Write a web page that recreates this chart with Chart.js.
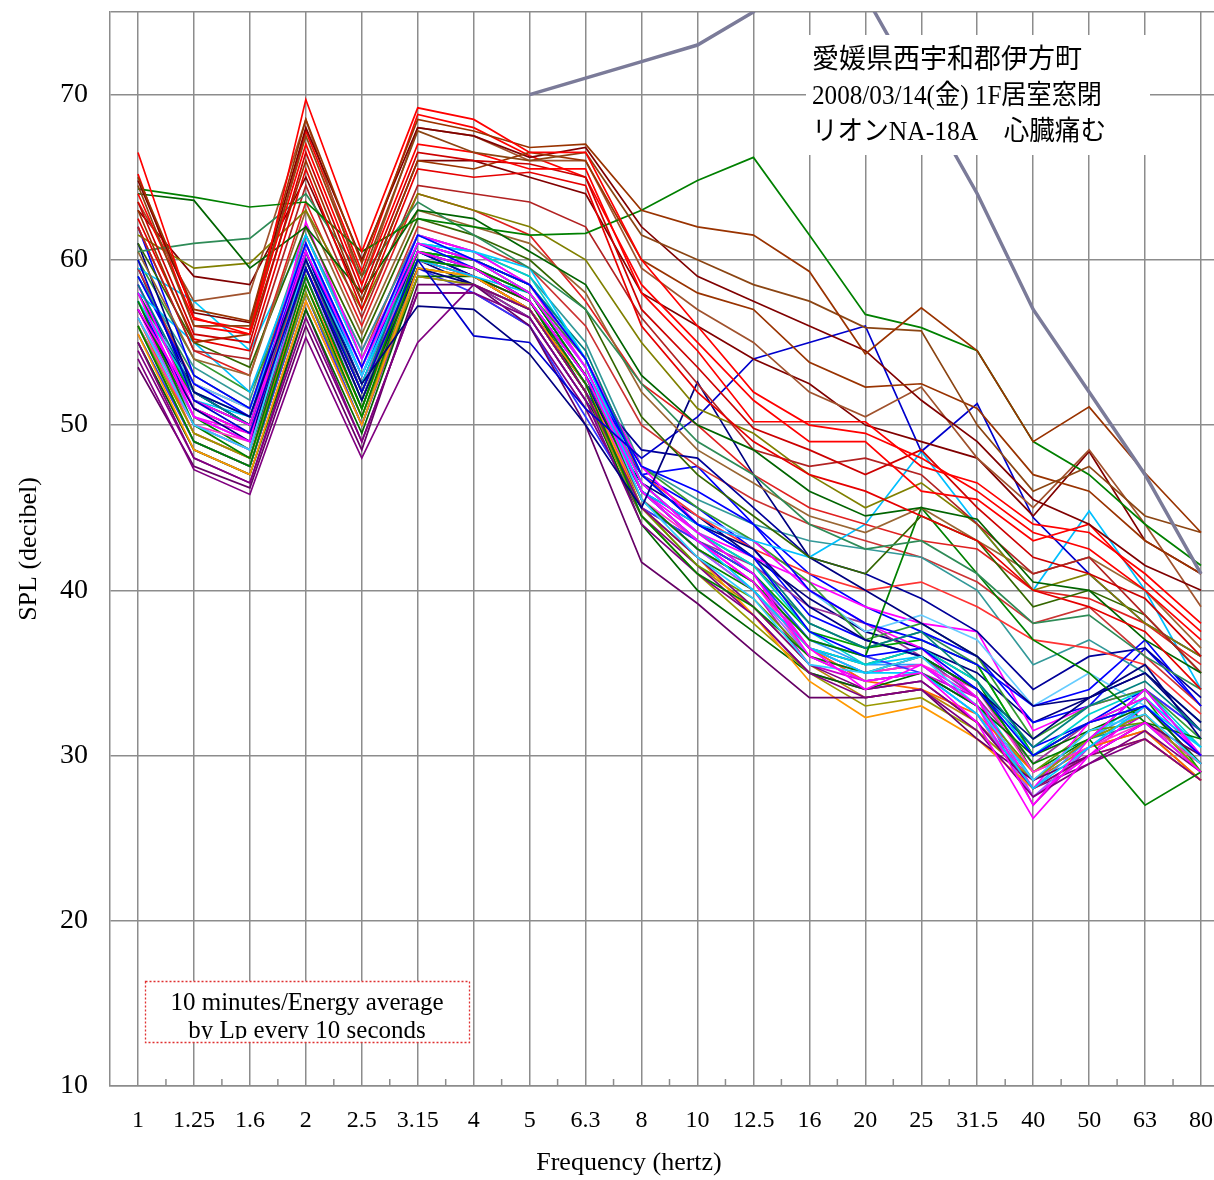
<!DOCTYPE html>
<html><head><meta charset="utf-8">
<script src="https://cdn.jsdelivr.net/npm/chart.js@4.4.1/dist/chart.umd.min.js"></script>
<style>html,body{margin:0;padding:0;background:#fff;overflow:hidden;width:1214px;height:1180px}canvas{display:block}</style>
</head><body>
<canvas id="c" width="1240" height="1180"></canvas>
<script>
const frequencies = ['1','1.25','1.6','2','2.5','3.15','4','5','6.3','8','10','12.5','16','20','25','31.5','40','50','63','80'];
const yTicks = [10,20,30,40,50,60,70];
const yTitle = 'SPL (decibel)';
const xTitle = 'Frequency (hertz)';
const noteLines = ['愛媛県西宇和郡伊方町','2008/03/14(金) 1F居室窓閉','リオンNA-18A　心臓痛む'];
const legendLines = ['10 minutes/Energy average','by Lp every 10 seconds'];

// reference curves (gray)
const refPhysical = [null,null,null,null,null,null,null,70,71,72,73,75,80,83,87,93,99,90,null,null];
const refMental   = [null,null,null,null,null,null,null,null,null,null,92,88,83,76,70,64,57,52,47,41];

// loud periods
const L01 = [66.5,56.5,55.5,69.7,60.5,69.2,68.5,66.5,66.5,60,56,52,50,49.5,48,46,43.5,42.5,40,37];
const L02 = [65,57,56.3,68.5,59.8,68.5,67.8,66.8,67,63,62,61.5,59.3,54.3,57.1,54.5,49,51.1,47.1,43.5];
const L03 = [64.5,56,56,67.5,59,67.8,66.5,66,66.5,61.5,60,58.5,57.5,55.9,55.7,50,46,47.5,44.5,43.5];
const L04 = [64,56.4,55.8,67,58.5,67,66.5,65.5,65.5,58,54.5,50.2,50.2,50.2,47.5,46.5,44,43.5,41,38];
const L05 = [63.5,55.5,55,66.5,58,66.5,66,65.8,65,57,53.5,49.8,48.5,47,48.5,45,42,41,39.5,36];
const L06 = [63,55,55.5,66,57.5,66,65.5,66.5,66,60,58,57,53.8,52.3,52.5,51,47,46,43,41];
const L07 = [64.8,56.8,56.2,68,60,68,67.5,66.2,66.8,62,59,57.5,56,54.5,51.5,49,45.5,44,41.5,40];
const L08 = [62.5,55.2,54.5,65.5,57,65.5,65,65.3,64.5,56,52,49,47,46,44.5,43,40,39,37.5,34];
const L09 = [64.3,63.8,63.2,63.5,60.5,62.5,62,61.5,61.6,63,64.8,66.2,61.5,56.7,55.9,54.5,49,47,44,41.5];
const L10 = [64,63.6,59.5,62,58,63,62.5,60.5,58.5,53,50,48.5,46,44.5,45,44.3,40.5,40,37,35];
const L11 = [60.5,61,61.3,64,59,63.5,61.5,59.5,57,52.5,49,47,44,42.5,43,41,38,38.5,36,34];
const L12 = [63.5,57.5,58,68.5,58.5,68,67.5,66,66,59.5,57,55,52,50.5,52.3,48,45,48.5,44,39];
const L13 = [65.2,56,55.5,67.8,59.3,68.8,68,66.3,65,58.5,55,51.5,49,49,46,45.5,43,44,40.5,37.5];
const L14 = [62,54.5,54,64.5,56.5,64.5,64,63.5,62,56.5,52.5,48.5,47.5,48,47,44,41,42,38.5,35];
const L15 = [61.5,59.5,59.8,63,57,64,63,62,60,55,51,49.5,47,45,46.5,44,40,41,38,36];
const L16 = [63,59,58.5,65,57.5,66,66,65,64,58,56,54,52.5,50,49,48,44.5,48.4,43,41];
const M01 = [60.5,54,53,63,55.5,63,62,61,58,52,48.5,46.5,44.5,43.5,45,43,41,42,40,36.5];
const M02 = [61,55,53.5,62,55,62.5,61.5,60,57,50.5,47,44.5,42,41,44.5,43,39,40,38.5,35];
const M03 = [62,54.5,53,63.5,56,64,63,61.5,57.5,52.5,50,47,45,44,43,42.5,40,39.5,38,35.5];

// quiet periods
const Q01 = [62,53,51,61,53.5,61.5,60,58.5,54,47,44,42,37.5,36,36.5,34,30,32,33,30];
const Q02 = [61,52,50.5,60,52.5,57.2,57,54.3,50,45,52.6,47,42,40,38,36,33,33.5,35,32];
const Q03 = [60,51.5,49.5,59.5,52,60,55.4,55,51,48,50.5,54,55,56,48.4,51.3,44.4,41,38,36];
const Q04 = [58,50.5,49,62.3,54,61,60,58,53.5,46.5,43.5,41,36,34.5,35,32,26.2,30,32,29];
const Q05 = [57,51.5,50,60.5,53.5,60.5,59.5,57.5,53,46,43,40.5,36.5,34,35.5,33,27,31,34,30];
const Q06 = [59.5,57.5,54.5,61.5,54,61,60.5,59.5,54,46,43,40,36.5,35,35,32.5,28,30.5,33,30.5];
const Q07 = [56.5,50,48.5,60,53,61.5,60,58,53.5,45.5,42,39.5,35.5,35,36,33,28.5,31.5,32.5,29.5];
const Q08 = [56,49,47.5,58.5,50.5,60,59.5,57.5,52.5,44.5,41,39,36,35,36,34,29.5,31,27,29];
const Q09 = [54,47.3,45.8,55.3,48,55,58.5,57,52,45,42,39,35.5,34,34.5,32,28,30,31,28.5];
const Q10 = [55,48,46.5,56.5,49,58,58,56.5,51.5,44,41,38.5,35,33.5,34,31.5,27.5,29.5,31.5,29];
const Q11 = [53.5,47.5,46.2,56,48.5,58.5,58.5,56,50,41.7,39.2,36.3,33.5,33.5,34,31,28.5,30,32,30];
const Q12 = [57.5,50,48,59,51,60.5,59.5,58,53,45.5,42.5,40.5,37,36,45,41,37,35,32,31];
const Q13 = [58.5,52,50,60,52,61,60,58.5,54.5,47,44,42,38,36.5,37.5,34.5,30.5,33,34.5,31.5];
const Q14 = [58,55,52,61,53,60,59,58,53.5,46,44,43,42,44,48.4,44,40,44.8,40,34];
const Q15 = [55.5,48.5,47,57.5,50,59.5,59,57,52.5,45,42,38.5,34.5,32.3,33,31,28,30,31,28.5];
const Q16 = [56,49.5,48,58,50.5,59,58.5,57,52,44.5,41,38,35,33,33.5,31.5,28.5,31,32.5,29];
const Q17 = [59,52.5,50.5,60.5,53,61,59.5,57.5,53,47.5,46,44,40,38,37,35.5,33,34,37,33];
const Q18 = [57,51,49,59.5,51.5,59.5,58.5,57,52.5,46,44,42.5,39,37,36,34,31,33.5,35.5,31];
const Q19 = [58.5,51,49.5,61,53.5,61.5,60.5,58.5,54,47.5,44,43,40,38,36.5,33.5,28,32,33.5,30];
const Q20 = [60,54,52,59.5,51.5,60,59.5,58,54,47.5,45,43,40.5,37,38,36,31,33,34,31];
const Q21 = [55,48.5,47,57,49.5,59,59,57.5,52,44,40,37.5,35,34,35,33,30,31.5,33,29.5];
const Q22 = [57.5,52,50.5,60,52.5,61,60.5,59,54,46.5,43.5,41.5,37.5,35.5,36.5,34.5,30,32.5,34,30.5];
const Q23 = [56.5,50.5,49,59,51.5,60.5,59.5,57.5,53,45.5,42.5,40,36,34.5,35,32.5,27.5,30.5,33,29.5];
const Q24 = [57,51,49.5,60,52,60,59,57.5,53,47,44.5,42.5,41,40,40.5,39,37,36.5,35.5,32.5];
const Q25 = [55.5,49,47.5,58,50,59.5,58,56,50.5,45,43,41,37,36,35,33,28.5,31,34,31.5];
const Q26 = [56,50,49,59.5,52.5,60,59,57.5,52.5,45.5,43,40.5,36,35,35.5,34,29,30.5,32,29.5];
const Q27 = [57.5,52.5,51,60.5,53.5,61,60.5,58.5,54,47,44.5,43,40,37.5,38.5,37,33,35,33,30];
const Q28 = [58,51.5,50,59,51,60.5,60,58.5,54,46,43,41,37.5,36.5,37,35.5,30,32,33.5,29];
const Q29 = [55,48.5,47,57.5,50,59,58.5,56.5,51.5,45,43,41.5,39,38,36,33.5,29.5,32,33,30];
const Q30 = [56.5,49.5,48,58.5,51,60,59,57,52,45.5,42.5,40.5,36.5,34.5,34,32.5,29,30.5,31.5,28.5];
const Q31 = [58,52,50,60.5,52.5,60.5,59,57,52.5,48.5,48,45,42,41,39.5,37.5,34,36,36.5,33.5];
const Q32 = [59,53.5,51.5,61.5,54.5,61.5,60.5,59,55,47.5,45.5,44,43,42.5,42,40,35.5,37,35,32];
const Q33 = [59.5,52.5,51,61.5,54,62,61,59.5,56,50,47.5,45.5,44,43,42,40.5,38,39,36,33];
const Q34 = [57,50,48.5,60.5,53,61,60,58.5,53.5,46,43.5,42,40.5,39,38,37.5,31.5,33,34,31.5];
const Q35 = [56,49,47.5,58,50,59.5,59,57,52,45,41.5,39.5,36,34.5,35,33,29,31.5,32,29.5];
const Q36 = [57.5,51,49.5,60,52,60.5,59.5,57.5,52.5,47,47.5,44,41,39,37.5,36,32,33,36.5,33];
const Q37 = [57.5,50.5,49.5,61.5,54.5,61.5,60.5,58.5,53.5,46,43,41,36.5,35,35.5,33.5,27.5,30,33,29.5];
const Q38 = [58,51.5,50.5,61,53.5,61,60,58.5,54,46.5,43.5,41,36.5,35.5,36,33.5,28.5,31,33.5,30.5];
const Q39 = [57,50.5,48.5,59.5,51.5,60.5,60,58,53,45,42,40,36.5,35.5,36.5,34.5,29,31,32.5,29];
const Q40 = [54.5,48,46.5,57,49,58,58,56,51,44.5,41.5,38.5,35,34,34.5,32,28,29.5,31,28.5];
const Q41 = [58.5,51.5,50,60,52.5,60.5,59,57,52,47,45,42.5,38.5,37,36,34,30.5,32,34,30];
const Q42 = [57,51,49.5,60.5,53,61,60,58,53,46,43,41,37,35.5,35.5,33,28,31,33,30];
const Q43 = [56.5,49.5,48,59.5,52,60,59,57.5,52.5,45.5,42.5,40,35.5,34.5,35,33.5,27,30.5,32.5,29];
const Q44 = [59,53,51,60,52,60.5,60,58.5,54,46.5,43.5,41.5,38,36.5,37.5,35.5,30,32,33,29.5];
const Q45 = [56,50,48.5,59,51,60,59.5,57.5,53,45.5,42.5,40.5,36.5,35,35.5,33,28.5,31,32,29];
const Q46 = [55.5,49,47.5,58,50.5,59.5,59,57,52,45,41.5,39,35.5,33.5,34,32,28.5,30.5,31.5,28.5];
const Q47 = [57,50.5,49,60,52.5,60.5,59.5,58,53,46,43,40.5,36.5,34.5,35,32.5,27.5,30,32,29.5];
const Q48 = [59.5,52,50,60.5,52,60,58.5,56.5,51.5,46.5,44.5,42,39.5,37.5,36.5,35,32,33.5,35,31.5];

const seriesList = [
  [L01,'#ff0000'],[L02,'#993300'],[L03,'#8b4513'],[L04,'#ff0000'],[L05,'#cc0000'],[L06,'#993300'],
  [L07,'#800000'],[L08,'#e60000'],[L09,'#008000'],[L10,'#006400'],[L11,'#2e8b57'],[L12,'#a0522d'],
  [L13,'#ff0000'],[L14,'#b22222'],[L15,'#808000'],[L16,'#800000'],[M01,'#996633'],[M02,'#336600'],[M03,'#e02020'],
  [Q01,'#0000ff'],[Q02,'#000080'],[Q03,'#0000cc'],[Q04,'#ff00ff'],[Q05,'#ff00ff'],[Q06,'#00ccff'],
  [Q07,'#33ccff'],[Q08,'#008000'],[Q09,'#800080'],[Q10,'#800080'],[Q11,'#660066'],[Q12,'#008000'],
  [Q13,'#008080'],[Q14,'#00bfff'],[Q15,'#ff9900'],[Q16,'#999900'],[Q17,'#0000ff'],[Q18,'#000080'],
  [Q19,'#ff00ff'],[Q20,'#339933'],[Q21,'#006600'],[Q22,'#00d0d0'],[Q23,'#9966ff'],[Q24,'#ff3333'],
  [Q25,'#3333ff'],[Q26,'#ff33cc'],[Q27,'#66ccff'],[Q28,'#00a000'],[Q29,'#993399'],[Q30,'#ff6600'],
  [Q31,'#000099'],[Q32,'#339999'],[Q33,'#cc3333'],[Q34,'#ff00ff'],[Q35,'#669900'],[Q36,'#0000ff'],
  [Q37,'#ff00ff'],[Q38,'#00ccff'],[Q39,'#008000'],[Q40,'#800080'],[Q41,'#0000ff'],[Q42,'#3399ff'],
  [Q43,'#cc00cc'],[Q44,'#2e8b57'],[Q45,'#00a0a0'],[Q46,'#b8860b'],[Q47,'#9933ff'],[Q48,'#000080']
];

const gridColor = '#8c8c8c';
const refColor = '#7b7b99';

const datasets = [
  {label:'物的苦情参照値', data: refPhysical, borderColor: refColor, borderWidth: 3.5},
  {label:'心身苦情参照値', data: refMental, borderColor: refColor, borderWidth: 3.5}
];
seriesList.forEach((s, i) => datasets.push({label: 'Lp ' + (i + 1), data: s[0], borderColor: s[1], borderWidth: 1.7}));

const decor = {
  id: 'decor',
  afterDraw(chart) {
    const ctx = chart.ctx, a = chart.chartArea, xs = chart.scales.x;
    ctx.save();
    // minor ticks between categories
    ctx.strokeStyle = gridColor; ctx.lineWidth = 1.5;
    for (let i = 0; i < frequencies.length - 1; i++) {
      const mx = (xs.getPixelForTick(i) + xs.getPixelForTick(i + 1)) / 2;
      ctx.beginPath(); ctx.moveTo(mx, a.bottom - 7); ctx.lineTo(mx, a.bottom); ctx.stroke();
    }
    // legend box
    const bx = 145, by = 981, bw = 324, bh = 61;
    ctx.fillStyle = '#fff'; ctx.fillRect(bx, by, bw, bh);
    ctx.setLineDash([2, 2]); ctx.strokeStyle = '#e03030'; ctx.lineWidth = 1.3;
    ctx.strokeRect(bx + 0.5, by + 0.5, bw, bh);
    ctx.setLineDash([]);
    ctx.save();
    ctx.beginPath(); ctx.rect(bx + 2, by + 2, bw - 4, bh - 5); ctx.clip();
    ctx.fillStyle = '#000'; ctx.font = '25px "Liberation Serif"';
    ctx.textAlign = 'center'; ctx.textBaseline = 'middle';
    ctx.fillText(legendLines[0], bx + bw / 2, 1003);
    ctx.fillText(legendLines[1], bx + bw / 2, 1031);
    ctx.restore();
    // note box
    ctx.fillStyle = '#fff'; ctx.fillRect(806, 35, 344, 120);
    ctx.fillStyle = '#000'; ctx.font = '27px "Liberation Serif", "Noto Sans CJK JP"';
    ctx.textAlign = 'left'; ctx.textBaseline = 'middle';
    ctx.fillText(noteLines[0], 812, 61, 282);
    ctx.fillText(noteLines[1], 812, 97, 290);
    ctx.fillText(noteLines[2], 812, 133, 294);
    // x title
    ctx.font = '26px "Liberation Serif"'; ctx.textAlign = 'center';
    ctx.fillText(xTitle, 629, 1163);
    ctx.restore();
  }
};

new Chart(document.getElementById('c'), {
  type: 'line',
  data: { labels: frequencies, datasets },
  options: {
    responsive: false, animation: false, devicePixelRatio: 1,
    layout: { padding: { top: 12, right: 11, left: 0, bottom: 0 } },
    elements: { point: { radius: 0 }, line: { tension: 0, fill: false } },
    plugins: { legend: { display: false }, tooltip: { enabled: false } },
    scales: {
      x: {
        offset: true,
        ticks: { padding: 20, color: '#000', font: { family: 'Liberation Serif', size: 24 }, maxRotation: 0, autoSkip: false },
        grid: { color: gridColor, lineWidth: 1.5, drawTicks: false },
        border: { color: gridColor, width: 1.5 },
        afterFit(s) { s.height = 94; s.paddingLeft = 0; s.paddingRight = 0; }
      },
      y: {
        min: 10, max: 75,
        ticks: { stepSize: 10, padding: 22, color: '#000', font: { family: 'Liberation Serif', size: 28 },
                 callback: v => yTicks.includes(v) ? String(v) : '' },
        grid: { color: gridColor, lineWidth: 1.5, drawTicks: false },
        border: { color: gridColor, width: 1.5 },
        title: { display: true, text: yTitle, color: '#000', font: { family: 'Liberation Serif', size: 26 }, padding: { top: 14, bottom: 0 } },
        afterFit(s) { s.width = 110; s.paddingTop = 0; s.paddingBottom = 0; }
      }
    }
  },
  plugins: [decor]
});
</script>
</body></html>
